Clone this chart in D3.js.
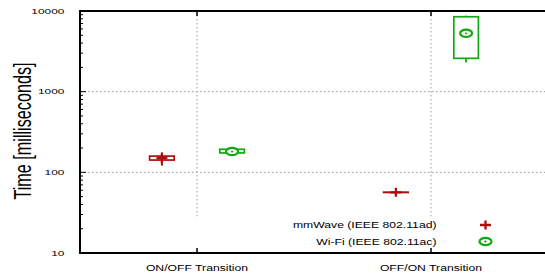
<!DOCTYPE html>
<html><head><meta charset="utf-8">
<script src="https://cdn.jsdelivr.net/npm/d3@7"></script>
<style>html,body{margin:0;padding:0;background:#fff;overflow:hidden}</style>
</head><body>
<svg id="c" width="545" height="277"></svg>
<script>
const categories = ["ON/OFF Transition", "OFF/ON Transition"];
const seriesNames = ["mmWave (IEEE 802.11ad)", "Wi-Fi (IEEE 802.11ac)"];
// [whiskerLow, boxLow, center, boxHigh, whiskerHigh]
const mmWave = [[121, 142, 150, 159, 177], [54, 56.3, 56.5, 56.8, 59]];
const wifi = [[170, 174, 181, 193, 197], [2310, 2590, 5290, 8490, 8740]];
const yTicks = [10, 100, 1000, 10000];
const yTickLabels = ["10", "100", "1000", "10000"];

const FONT = "'Liberation Sans', Arial, Helvetica, sans-serif";
const RED = "#a80f0f", GREEN = "#12a812";
const svg = d3.select("#c");
const x = d3.scaleLinear().domain([0.5, 2.5]).range([80, 548]);
const y = d3.scaleLog().domain([10, 10000]).range([253, 11]);
const off = 0.15, bw = 0.105;

// grid
const g = svg.append("g");
[100, 1000].forEach(v => g.append("line").attr("x1", x(0.5)).attr("x2", x(2.5))
  .attr("y1", y(v)).attr("y2", y(v)).attr("stroke", "#999").attr("stroke-width", 1)
  .attr("stroke-dasharray", "1.5,2.5"));
categories.forEach((c, i) => g.append("line").attr("x1", x(i + 1)).attr("x2", x(i + 1))
  .attr("y1", y(10000)).attr("y2", y(28.5)).attr("stroke", "#999").attr("stroke-width", 1)
  .attr("stroke-dasharray", "1.5,2.5"));

// axes (ticks inward)
const minor = [];
for (let d = 10; d < 10000; d *= 10) for (let k = 2; k <= 9; k++) minor.push(d * k);
const ax = svg.append("g").attr("stroke", "#000");
minor.forEach(v => ax.append("line").attr("x1", x(0.5)).attr("x2", x(0.5) + 3)
  .attr("y1", y(v)).attr("y2", y(v)).attr("stroke-width", 1));
yTicks.forEach(v => ax.append("line").attr("x1", x(0.5)).attr("x2", x(0.5) + 6)
  .attr("y1", y(v)).attr("y2", y(v)).attr("stroke-width", 1));
categories.forEach((c, i) => {
  ax.append("line").attr("x1", x(i + 1)).attr("x2", x(i + 1)).attr("y1", y(10)).attr("y2", y(10) - 5).attr("stroke-width", 1.5);
  ax.append("line").attr("x1", x(i + 1)).attr("x2", x(i + 1)).attr("y1", y(10000)).attr("y2", y(10000) + 5).attr("stroke-width", 1.5);
});
ax.append("path").attr("fill", "none").attr("stroke-width", 2)
  .attr("d", `M${x(2.5)},${y(10000)}H${x(0.5)}V${y(10)}H${x(2.5)}`);

// tick labels
yTicks.forEach((v, i) => svg.append("text")
  .attr("transform", `translate(64.5,${y(v) + 2.8}) scale(1.55,1)`)
  .attr("text-anchor", "end").attr("font-family", FONT).attr("font-size", 7.7)
  .text(yTickLabels[i]));
categories.forEach((c, i) => svg.append("text")
  .attr("transform", `translate(${x(i + 1)},271) scale(1.47,1)`)
  .attr("text-anchor", "middle").attr("font-family", FONT).attr("font-size", 8.3)
  .text(c));
svg.append("text").attr("transform", "translate(31,131) scale(1.52,1) rotate(-90)")
  .attr("text-anchor", "middle").attr("font-family", FONT).attr("font-size", 16.2)
  .text("Time [milliseconds]");

// markers
function plus(sel, cx, cy, col) {
  sel.append("path").attr("d", `M${cx - 5.5},${cy}H${cx + 5.5}M${cx},${cy - 4.5}V${cy + 4.5}`)
    .attr("stroke", col).attr("stroke-width", 2.3).attr("fill", "none");
}
function circ(sel, cx, cy, col) {
  sel.append("ellipse").attr("cx", cx).attr("cy", cy).attr("rx", 6).attr("ry", 3.6)
    .attr("stroke", col).attr("stroke-width", 2.2).attr("fill", "#fff");
  sel.append("ellipse").attr("cx", cx).attr("cy", cy).attr("rx", 1.3).attr("ry", 0.9).attr("fill", col);
}

const data = [
  { vals: mmWave, col: RED, dx: -off, mk: plus },
  { vals: wifi, col: GREEN, dx: off, mk: circ }
];
data.forEach(s => {
  s.vals.forEach((v, i) => {
    const cx = x(i + 1 + s.dx), gg = svg.append("g");
    gg.append("line").attr("x1", cx).attr("x2", cx).attr("y1", y(v[0])).attr("y2", y(v[4]))
      .attr("stroke", s.col).attr("stroke-width", 2);
    gg.append("rect").attr("x", x(i + 1 + s.dx - bw / 2)).attr("width", x(i + 1 + s.dx + bw / 2) - x(i + 1 + s.dx - bw / 2))
      .attr("y", y(v[3])).attr("height", Math.max(0.1, y(v[1]) - y(v[3])))
      .attr("fill", "#fff").attr("stroke", s.col).attr("stroke-width", 1.7);
    s.mk(gg, cx, y(v[2]), s.col);
  });
});

// legend
const ly = [225, 241.5];
seriesNames.forEach((n, i) => {
  svg.append("text").attr("transform", `translate(436.5,${ly[i] + 3}) scale(1.47,1)`)
    .attr("text-anchor", "end").attr("font-family", FONT).attr("font-size", 8.3).text(n);
  data[i].mk(svg, 485.5, ly[i], data[i].col);
});
</script>
</body></html>
